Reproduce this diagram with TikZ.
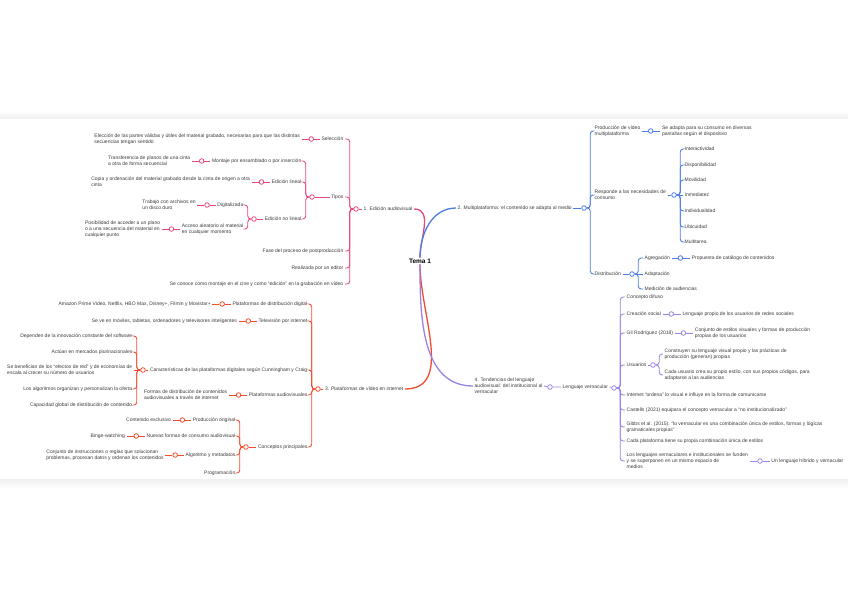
\documentclass[tikz,border=0pt]{standalone}
\usepackage{fontspec}
\setmainfont{Liberation Sans}
\usetikzlibrary{positioning}
\definecolor{mapPink}{HTML}{E5467D}
\definecolor{mapBlue}{HTML}{4C7CE6}
\definecolor{mapRed}{HTML}{EF4C2C}
\definecolor{mapLilac}{HTML}{9C82E4}
\definecolor{mapText}{HTML}{3A3A3A}

\begin{document}
\begin{tikzpicture}[
  x=1pt,y=-1pt,
  topic/.style={inner xsep=1.5pt,inner ysep=0.5pt,align=left,text=mapText,font=\fontsize{5}{6}\selectfont},
  left topic/.style={topic,anchor=east},
  right topic/.style={topic,anchor=west},
  knob/.style={circle,draw=#1,fill=white,line width=0.8pt,minimum size=4.6pt,inner sep=0pt},
  trunk/.style={line width=1.3pt},
  twig/.style={line width=0.85pt,rounded corners=3pt}
]
\useasboundingbox (0,0) rectangle (848,599);
\shade[top color=white,bottom color=black!6] (0,110) rectangle (848,119);
\shade[top color=black!6,bottom color=white] (0,479) rectangle (848,488);

\node[font=\fontsize{6.5}{8}\selectfont\bfseries,text=black,inner sep=1pt] (tema) at (420,261) {Tema 1};

% 1. edicion
\node[right topic] (n1) at (362,209) {1. Edición audiovisual};
\draw[trunk,mapPink] (tema.north) to[out=90,in=0] (n1.east);
\node[knob=mapPink] (k1) at (356,209) {};
\draw[twig,mapPink] (k1) -- (n1.west);

\node[left topic] (sel) at (345,139) {Selección};
\draw[twig,mapPink] (k1.west) -- ++(-3.5,0) |- (sel.east);
\node[knob=mapPink,left=6pt of sel] (selK) {};
\node[left topic,left=7pt of selK] (selD) {Elección de las partes válidas y útiles del material grabado, necesarias para que las distintas\\secuencias tengan sentido};
\draw[twig,mapPink] (selD.east) -- (selK) -- (sel.west);

\node[left topic] (tip) at (345,197) {Tipos};
\draw[twig,mapPink] (k1.west) -- ++(-3.5,0) |- (tip.east);
\node[knob=mapPink] (tipK) at (312,197) {};
\draw[twig,mapPink] (tipK) -- (tip.west);

\node[left topic] (mon) at (303,161) {Montaje por ensamblado o por inserción};
\draw[twig,mapPink] (tipK.west) -- ++(-3.5,0) |- (mon.east);
\node[knob=mapPink,left=6pt of mon] (monK) {};
\node[left topic,left=7pt of monK] (monD) {Transferencia de planos de una cinta\\a otra de forma secuencial};
\draw[twig,mapPink] (monD.east) -- (monK) -- (mon.west);

\node[left topic] (lin) at (303,182) {Edición lineal};
\draw[twig,mapPink] (tipK.west) -- ++(-3.5,0) |- (lin.east);
\node[knob=mapPink,left=6pt of lin] (linK) {};
\node[left topic,left=7pt of linK] (linD) {Copia y ordenación del material grabado desde la cinta de origen a otra\\cinta};
\draw[twig,mapPink] (linD.east) -- (linK) -- (lin.west);

\node[left topic] (nol) at (303,219) {Edición no lineal};
\draw[twig,mapPink] (tipK.west) -- ++(-3.5,0) |- (nol.east);
\node[knob=mapPink] (nolK) at (254,219) {};
\draw[twig,mapPink] (nolK) -- (nol.west);

\node[left topic] (dig) at (245,205) {Digitalizada};
\draw[twig,mapPink] (nolK.west) -- ++(-3.5,0) |- (dig.east);
\node[knob=mapPink,left=6pt of dig] (digK) {};
\node[left topic,left=7pt of digK] (digD) {Trabajo con archivos en\\un disco duro};
\draw[twig,mapPink] (digD.east) -- (digK) -- (dig.west);

\node[left topic] (acc) at (245,229) {Acceso aleatorio al material\\en cualquier momento};
\draw[twig,mapPink] (nolK.west) -- ++(-3.5,0) |- (acc.east);
\node[knob=mapPink,left=6pt of acc] (accK) {};
\node[left topic,left=7pt of accK] (accD) {Posibilidad de acceder a un plano\\o a una secuencia del material en\\cualquier punto};
\draw[twig,mapPink] (accD.east) -- (accK) -- (acc.west);

\node[left topic] (fas) at (345,251) {Fase del proceso de postproducción};
\draw[twig,mapPink] (k1.west) -- ++(-3.5,0) |- (fas.east);
\node[left topic] (rea) at (345,268) {Realizada por un editor};
\draw[twig,mapPink] (k1.west) -- ++(-3.5,0) |- (rea.east);
\node[left topic] (con) at (345,284) {Se conoce como montaje en el cine y como “edición” en la grabación en vídeo};
\draw[twig,mapPink] (k1.west) -- ++(-3.5,0) |- (con.east);

% 2. multiplataforma
\node[right topic] (n2) at (456,208) {2. Multiplataforma: el contenido se adapta al medio};
\draw[trunk,mapBlue] (tema.north) to[out=90,in=180] (n2.west);
\node[knob=mapBlue] (k2) at (584,208) {};
\draw[twig,mapBlue] (n2.east) -- (k2);

\node[right topic] (pro) at (593,131) {Producción de vídeo\\multiplataforma};
\draw[twig,mapBlue] (k2.east) -- ++(3.5,0) |- (pro.west);
\node[knob=mapBlue,right=6pt of pro] (proK) {};
\node[right topic,right=7pt of proK] (proD) {Se adapta para su consumo en diversas\\pantallas según el dispositivo};
\draw[twig,mapBlue] (pro.east) -- (proK) -- (proD.west);

\node[right topic] (res) at (593,195) {Responde a las necesidades de\\consumo};
\draw[twig,mapBlue] (k2.east) -- ++(3.5,0) |- (res.west);
\node[knob=mapBlue] (resK) at (674,195) {};
\draw[twig,mapBlue] (res.east) -- (resK);
\node[right topic] (inter) at (683,149) {Interactividad};
\draw[twig,mapBlue] (resK.east) -- ++(3.5,0) |- (inter.west);
\node[right topic] (dispo) at (683,165) {Disponibilidad};
\draw[twig,mapBlue] (resK.east) -- ++(3.5,0) |- (dispo.west);
\node[right topic] (movil) at (683,180) {Movilidad};
\draw[twig,mapBlue] (resK.east) -- ++(3.5,0) |- (movil.west);
\node[right topic] (inmed) at (683,195) {Inmediatez};
\draw[twig,mapBlue] (resK.east) -- (inmed.west);
\node[right topic] (indiv) at (683,211) {Individualidad};
\draw[twig,mapBlue] (resK.east) -- ++(3.5,0) |- (indiv.west);
\node[right topic] (ubic) at (683,227) {Ubicuidad};
\draw[twig,mapBlue] (resK.east) -- ++(3.5,0) |- (ubic.west);
\node[right topic] (multi) at (683,242) {Multitarea};
\draw[twig,mapBlue] (resK.east) -- ++(3.5,0) |- (multi.west);

\node[right topic] (dis) at (593,274) {Distribución};
\draw[twig,mapBlue] (k2.east) -- ++(3.5,0) |- (dis.west);
\node[knob=mapBlue] (disK) at (632,274) {};
\draw[twig,mapBlue] (dis.east) -- (disK);
\node[right topic] (agr) at (643,258) {Agregación};
\draw[twig,mapBlue] (disK.east) -- ++(3.5,0) |- (agr.west);
\node[knob=mapBlue,right=6pt of agr] (agrK) {};
\node[right topic,right=7pt of agrK] (agrD) {Propuesta de catálogo de contenidos};
\draw[twig,mapBlue] (agr.east) -- (agrK) -- (agrD.west);
\node[right topic] (ada) at (643,274) {Adaptación};
\draw[twig,mapBlue] (disK.east) -- (ada.west);
\node[right topic] (med) at (643,289) {Medición de audiencias};
\draw[twig,mapBlue] (disK.east) -- ++(3.5,0) |- (med.west);

% 3. plataformas
\node[left topic] (n3) at (405,389) {3. Plataformas de vídeo en internet};
\draw[trunk,mapRed] (tema.south) to[out=-90,in=0] (n3.east);
\node[knob=mapRed] (k3) at (318,389) {};
\draw[twig,mapRed] (k3) -- (n3.west);

\node[left topic] (pdd) at (309,304) {Plataformas de distribución digital};
\draw[twig,mapRed] (k3.west) -- ++(-3.5,0) |- (pdd.east);
\node[knob=mapRed,left=6pt of pdd] (pddK) {};
\node[left topic,left=7pt of pddK] (pddD) {Amazon Prime Video, Netflix, HBO Max, Disney+, Filmin y Movistar+};
\draw[twig,mapRed] (pddD.east) -- (pddK) -- (pdd.west);

\node[left topic] (tvi) at (309,321) {Televisión por internet};
\draw[twig,mapRed] (k3.west) -- ++(-3.5,0) |- (tvi.east);
\node[knob=mapRed,left=6pt of tvi] (tviK) {};
\node[left topic,left=7pt of tviK] (tviD) {Se ve en móviles, tabletas, ordenadores y televisores inteligentes};
\draw[twig,mapRed] (tviD.east) -- (tviK) -- (tvi.west);

\node[left topic] (car) at (309,370) {Características de las plataformas digitales según Cunningham y Craig};
\draw[twig,mapRed] (k3.west) -- ++(-3.5,0) |- (car.east);
\node[knob=mapRed] (carK) at (143,370) {};
\draw[twig,mapRed] (carK) -- (car.west);
\node[left topic] (car1) at (134,336) {Dependen de la innovación constante del software};
\draw[twig,mapRed] (carK.west) -- ++(-3.5,0) |- (car1.east);
\node[left topic] (car2) at (134,352) {Actúan en mercados plurinacionales};
\draw[twig,mapRed] (carK.west) -- ++(-3.5,0) |- (car2.east);
\node[left topic] (car3) at (134,370) {Se benefician de los “efectos de red” y de economías de\\escala al crecer su número de usuarios};
\draw[twig,mapRed] (carK.west) -- (car3.east);
\node[left topic] (car4) at (134,389) {Los algoritmos organizan y personalizan la oferta};
\draw[twig,mapRed] (carK.west) -- ++(-3.5,0) |- (car4.east);
\node[left topic] (car5) at (134,405) {Capacidad global de distribución de contenido};
\draw[twig,mapRed] (carK.west) -- ++(-3.5,0) |- (car5.east);

\node[left topic] (pau) at (309,395) {Plataformas audiovisuales};
\draw[twig,mapRed] (k3.west) -- ++(-3.5,0) |- (pau.east);
\node[knob=mapRed,left=6pt of pau] (pauK) {};
\node[left topic,left=7pt of pauK] (pauD) {Formas de distribución de contenidos\\audiovisuales a través de internet};
\draw[twig,mapRed] (pauD.east) -- (pauK) -- (pau.west);

\node[left topic] (cpt) at (309,447) {Conceptos principales};
\draw[twig,mapRed] (k3.west) -- ++(-3.5,0) |- (cpt.east);
\node[knob=mapRed] (cptK) at (246,447) {};
\draw[twig,mapRed] (cptK) -- (cpt.west);
\node[left topic] (orig) at (237,420) {Producción original};
\draw[twig,mapRed] (cptK.west) -- ++(-3.5,0) |- (orig.east);
\node[knob=mapRed,left=6pt of orig] (origK) {};
\node[left topic,left=7pt of origK] (origD) {Contenido exclusivo};
\draw[twig,mapRed] (origD.east) -- (origK) -- (orig.west);
\node[left topic] (nfc) at (237,436) {Nuevas formas de consumo audiovisual};
\draw[twig,mapRed] (cptK.west) -- ++(-3.5,0) |- (nfc.east);
\node[knob=mapRed,left=6pt of nfc] (nfcK) {};
\node[left topic,left=7pt of nfcK] (nfcD) {Binge-watching};
\draw[twig,mapRed] (nfcD.east) -- (nfcK) -- (nfc.west);
\node[left topic] (alg) at (237,455) {Algoritmo y metadatos};
\draw[twig,mapRed] (cptK.west) -- ++(-3.5,0) |- (alg.east);
\node[knob=mapRed,left=6pt of alg] (algK) {};
\node[left topic,left=7pt of algK] (algD) {Conjunto de instrucciones o reglas que solucionan\\problemas, procesan datos y ordenan los contenidos};
\draw[twig,mapRed] (algD.east) -- (algK) -- (alg.west);
\node[left topic] (prg) at (237,473) {Programación};
\draw[twig,mapRed] (cptK.west) -- ++(-3.5,0) |- (prg.east);

% 4. vernacular
\node[right topic] (n4) at (473,386) {4. Tendencias del lenguaje\\audiovisual: del institucional al\\vernacular};
\draw[trunk,mapLilac] (tema.south) to[out=-90,in=180] (n4.west);
\node[knob=mapLilac] (n4K) at (550,387) {};
\node[right topic] (vern) at (561,387) {Lenguaje vernacular};
\draw[twig,mapLilac] (n4.east) -- (n4K) -- (vern.west);
\node[knob=mapLilac] (vernK) at (614,388) {};
\draw[twig,mapLilac] (vern.east) -- (vernK);

\node[right topic] (cdi) at (625,297) {Concepto difuso};
\draw[twig,mapLilac] (vernK.east) -- ++(3.5,0) |- (cdi.west);
\node[right topic] (cso) at (625,314) {Creación social};
\draw[twig,mapLilac] (vernK.east) -- ++(3.5,0) |- (cso.west);
\node[knob=mapLilac,right=6pt of cso] (csoK) {};
\node[right topic,right=7pt of csoK] (csoD) {Lenguaje propio de los usuarios de redes sociales};
\draw[twig,mapLilac] (cso.east) -- (csoK) -- (csoD.west);
\node[right topic] (gil) at (625,333) {Gil Rodríguez (2018)};
\draw[twig,mapLilac] (vernK.east) -- ++(3.5,0) |- (gil.west);
\node[knob=mapLilac,right=6pt of gil] (gilK) {};
\node[right topic,right=7pt of gilK] (gilD) {Conjunto de estilos visuales y formas de producción\\propias de los usuarios};
\draw[twig,mapLilac] (gil.east) -- (gilK) -- (gilD.west);
\node[right topic] (usu) at (625,365) {Usuarios};
\draw[twig,mapLilac] (vernK.east) -- ++(3.5,0) |- (usu.west);
\node[knob=mapLilac] (usuK) at (653,365) {};
\draw[twig,mapLilac] (usu.east) -- (usuK);
\node[right topic] (usu1) at (663,354) {Construyen su lenguaje visual propio y las prácticas de\\producción (generan) propias};
\draw[twig,mapLilac] (usuK.east) -- ++(3.5,0) |- (usu1.west);
\node[right topic] (usu2) at (663,375) {Cada usuario crea su propio estilo, con sus propios códigos, para\\adaptarse a las audiencias};
\draw[twig,mapLilac] (usuK.east) -- ++(3.5,0) |- (usu2.west);
\node[right topic] (int) at (625,395) {Internet “ordena” lo visual e influye en la forma de comunicarse};
\draw[twig,mapLilac] (vernK.east) -- ++(3.5,0) |- (int.west);
\node[right topic] (cas) at (625,410) {Castells (2021) equipara el concepto vernacular a “no institucionalizado”};
\draw[twig,mapLilac] (vernK.east) -- ++(3.5,0) |- (cas.west);
\node[right topic] (gib) at (625,427) {Gibbs et al. (2015): “lo vernacular es una combinación única de estilos, formas y lógicas\\gramaticales propias”};
\draw[twig,mapLilac] (vernK.east) -- ++(3.5,0) |- (gib.west);
\node[right topic] (cad) at (625,441) {Cada plataforma tiene su propia combinación única de estilos};
\draw[twig,mapLilac] (vernK.east) -- ++(3.5,0) |- (cad.west);
\node[right topic] (fus) at (625,461) {Los lenguajes vernaculares e institucionales se funden\\y se superponen en un mismo espacio de\\medios};
\draw[twig,mapLilac] (vernK.east) -- ++(3.5,0) |- (fus.west);
\node[knob=mapLilac] (fusK) at (760,461) {};
\node[right topic,right=7pt of fusK] (fusD) {Un lenguaje híbrido y vernacular};
\draw[twig,mapLilac] (fus.east) -- (fusK) -- (fusD.west);
\end{tikzpicture}
\end{document}
